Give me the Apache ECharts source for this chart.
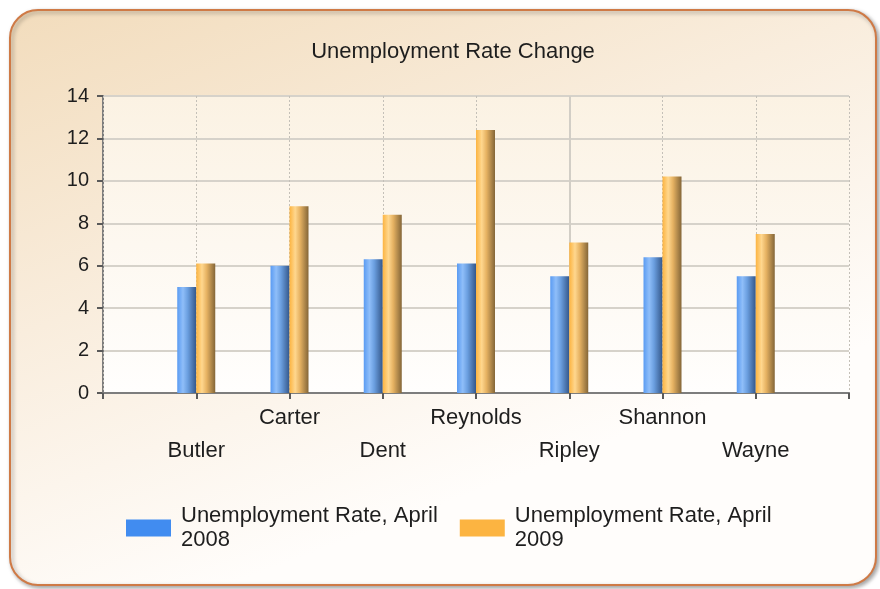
<!DOCTYPE html>
<html>
<head>
<meta charset="utf-8">
<script src="https://cdn.jsdelivr.net/npm/echarts@6/dist/echarts.min.js"></script>
<style>
html,body{margin:0;padding:0;background:#ffffff;}
#chart{width:880px;height:589px;}
</style>
</head>
<body>
<div id="chart"></div>
<script>
const title = 'Unemployment Rate Change';
const counties = ['Butler', 'Carter', 'Dent', 'Reynolds', 'Ripley', 'Shannon', 'Wayne'];
const rate2008 = [5.0, 6.0, 6.3, 6.1, 5.5, 6.4, 5.5];
const rate2009 = [6.1, 8.8, 8.4, 12.4, 7.1, 10.2, 7.5];
const seriesNames = ['Unemployment Rate, April 2008', 'Unemployment Rate, April 2009'];
const yTicks = [0, 2, 4, 6, 8, 10, 12, 14];
const solidGridCategory = 'Ripley';

// pad one empty slot on each side (axis runs from 0 to 8)
const categories = [''].concat(counties, ['']);
const pad = arr => [null].concat(arr, [null]);

const FONT = 'Liberation Sans, Arial, sans-serif';
const chart = echarts.init(document.getElementById('chart'), null, {renderer: 'canvas'});

const grad = (stops) => new echarts.graphic.LinearGradient(0, 0, 1, 0, stops);
const blueGrad = grad([
  {offset: 0, color: '#5a9bf2'},
  {offset: 0.3, color: '#8fbef9'},
  {offset: 0.55, color: '#6b9fe0'},
  {offset: 1, color: '#34578a'}
]);
const orangeGrad = grad([
  {offset: 0, color: '#fcb441'},
  {offset: 0.3, color: '#ffd78e'},
  {offset: 0.55, color: '#e6b262'},
  {offset: 1, color: '#846638'}
]);

const option = {
  backgroundColor: 'transparent',
  graphic: [
    {
      type: 'rect', z: -10, silent: true,
      shape: {x: 10, y: 10, width: 866, height: 575, r: 28},
      style: {
        fill: new echarts.graphic.LinearGradient(0, 0, 0.25, 1, [
          {offset: 0, color: '#f2dcbc'},
          {offset: 0.5, color: '#f9eddd'},
          {offset: 1, color: '#fffdfb'}
        ]),
        stroke: '#cf7a46', lineWidth: 2,
        shadowColor: 'rgba(0,0,0,0.35)', shadowBlur: 4, shadowOffsetX: 2, shadowOffsetY: 2
      }
    }
  ],
  title: {
    text: title,
    left: 448, top: 36, textAlign: 'center',
    textStyle: {fontFamily: FONT, fontSize: 22, fontWeight: 'normal', color: '#1e1e1e'}
  },
  legend: {
    left: 126, top: 504, padding: 0,
    itemWidth: 45, itemHeight: 17, itemGap: 22,
    icon: 'rect',
    data: [
      {name: seriesNames[0], itemStyle: {color: '#418cf0'}},
      {name: seriesNames[1], itemStyle: {color: '#fcb441'}}
    ],
    formatter: name => name.replace(/ (\d{4})$/, '\n$1'),
    textStyle: {fontFamily: FONT, fontSize: 22, lineHeight: 24, color: '#1e1e1e', padding: [0, 0, 0, 5]}
  },
  grid: {
    left: 103, top: 96, right: 31, bottom: 196,
    show: true, borderWidth: 0,
    backgroundColor: new echarts.graphic.LinearGradient(0, 0, 0, 1, [
      {offset: 0, color: '#fbf2e3'},
      {offset: 1, color: '#fffefd'}
    ])
  },
  xAxis: [
    {
      type: 'category',
      data: categories,
      boundaryGap: false,
      axisLine: {lineStyle: {color: '#7d7d7d', width: 2}},
      axisTick: {show: true, length: 6, lineStyle: {color: '#5a5a5a', width: 2}},
      splitLine: {
        show: true,
        interval: (i, v) => v !== solidGridCategory,
        lineStyle: {color: '#c4c0b8', type: [2, 2], width: 1}
      },
      axisLabel: {
        interval: 0, hideOverlap: false, margin: 8,
        fontFamily: FONT, fontSize: 22, lineHeight: 33, color: '#1e1e1e',
        formatter: (v, i) => (v === '' ? '' : (i % 2 === 1 ? '\n' + v : v))
      },
      z: 2
    },
    {
      type: 'category',
      data: categories,
      boundaryGap: false,
      position: 'bottom',
      axisLine: {show: false},
      axisTick: {show: false},
      axisLabel: {show: false},
      splitLine: {
        show: true,
        interval: (i, v) => v === solidGridCategory,
        lineStyle: {color: '#d2cec6', type: 'solid', width: 2}
      }
    }
  ],
  yAxis: {
    type: 'value',
    min: 0, max: 14, interval: 2,
    axisLine: {show: true, lineStyle: {color: '#7d7d7d', width: 2}},
    axisTick: {show: true, length: 6, lineStyle: {color: '#5a5a5a', width: 2}},
    splitLine: {lineStyle: {color: '#d6d2ca', width: 2}},
    axisLabel: {
      margin: 14, fontFamily: FONT, fontSize: 20, color: '#1e1e1e',
      formatter: v => (yTicks.indexOf(v) >= 0 ? String(v) : '')
    }
  },
  series: [
    {
      name: seriesNames[0], type: 'bar',
      data: pad(rate2008),
      barWidth: 19, barGap: '0%',
      itemStyle: {color: blueGrad, shadowColor: 'rgba(0,0,0,0.3)', shadowBlur: 2, shadowOffsetX: 1},
      z: 3
    },
    {
      name: seriesNames[1], type: 'bar',
      data: pad(rate2009),
      barWidth: 19, barGap: '0%',
      itemStyle: {color: orangeGrad, shadowColor: 'rgba(0,0,0,0.3)', shadowBlur: 2, shadowOffsetX: 1},
      z: 3
    }
  ]
};
chart.setOption(option);
</script>
</body>
</html>
